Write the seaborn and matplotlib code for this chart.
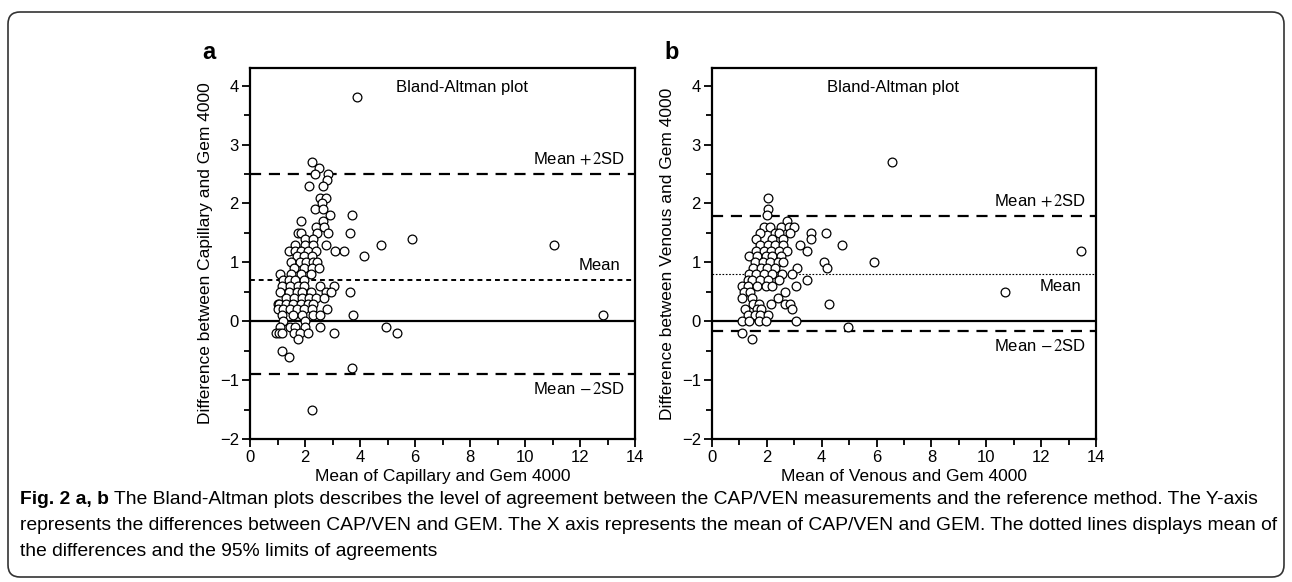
"""
Bland-Altman plots: capillary / venous vs Gem 4000
"""
import numpy as np
import pandas as pd
import matplotlib
matplotlib.use('Agg')
import matplotlib.pyplot as plt
from matplotlib.patches import FancyBboxPatch
import seaborn as sns

sns.set_style("ticks")
plt.rcParams['font.family'] = ['Liberation Sans', 'DejaVu Sans']
plt.rcParams['mathtext.fontset'] = 'stix'
plt.rcParams['text.color'] = 'black'
plt.rcParams['axes.labelcolor'] = 'black'
plt.rcParams['xtick.color'] = 'black'
plt.rcParams['ytick.color'] = 'black'

# ===================== data =====================
# panel a: capillary vs Gem 4000 (mean, difference)
cap_x = [3.9, 2.25, 2.5, 2.35, 2.85, 2.8, 2.15, 2.65, 2.55, 2.75, 2.6, 2.35, 2.65, 2.9, 3.7,
         1.85, 2.65, 2.4, 2.7, 1.75, 1.85, 2.45, 2.85, 3.65, 2.0, 2.3, 5.9, 1.65, 2.0, 2.3,
         2.75, 4.75, 11.05,
         1.4, 1.65, 1.85, 2.1, 2.4, 3.1, 3.4,
         1.7, 1.95, 2.25, 4.15,
         1.5, 1.8, 2.05, 2.3, 2.45,
         1.6, 1.95, 2.25, 2.5,
         1.1, 1.5, 1.85, 2.2,
         1.2, 1.4, 1.65, 1.95,
         1.15, 1.45, 1.75, 1.95, 2.55, 3.05,
         1.1, 1.4, 1.7, 1.9, 2.2, 2.75, 2.95, 3.65,
         1.3, 1.6, 1.9, 2.15, 2.4, 2.7,
         1.0, 1.05, 1.3, 1.55, 1.85, 2.1, 2.3,
         1.0, 1.2, 1.45, 1.7, 1.95, 2.25, 2.8,
         1.15, 1.55, 1.9, 2.3, 2.55, 3.75, 12.85,
         1.2, 2.0,
         1.1, 1.45, 1.65, 2.0, 2.55, 4.95,
         0.95, 1.05, 1.15, 1.6, 1.8, 2.1, 3.05, 5.35,
         1.75, 1.15, 1.4, 3.7, 2.25]
cap_d = [3.8, 2.7, 2.6, 2.5, 2.5, 2.4, 2.3, 2.3, 2.1, 2.1, 2.0, 1.9, 1.9, 1.8, 1.8,
         1.7, 1.7, 1.6, 1.6, 1.5, 1.5, 1.5, 1.5, 1.5, 1.4, 1.4, 1.4, 1.3, 1.3, 1.3,
         1.3, 1.3, 1.3,
         1.2, 1.2, 1.2, 1.2, 1.2, 1.2, 1.2,
         1.1, 1.1, 1.1, 1.1,
         1.0, 1.0, 1.0, 1.0, 1.0,
         0.9, 0.9, 0.9, 0.9,
         0.8, 0.8, 0.8, 0.8,
         0.7, 0.7, 0.7, 0.7,
         0.6, 0.6, 0.6, 0.6, 0.6, 0.6,
         0.5, 0.5, 0.5, 0.5, 0.5, 0.5, 0.5, 0.5,
         0.4, 0.4, 0.4, 0.4, 0.4, 0.4,
         0.3, 0.3, 0.3, 0.3, 0.3, 0.3, 0.3,
         0.2, 0.2, 0.2, 0.2, 0.2, 0.2, 0.2,
         0.1, 0.1, 0.1, 0.1, 0.1, 0.1, 0.1,
         0.0, 0.0,
         -0.1, -0.1, -0.1, -0.1, -0.1, -0.1,
         -0.2, -0.2, -0.2, -0.2, -0.2, -0.2, -0.2, -0.2,
         -0.3, -0.5, -0.6, -0.8, -1.5]
cap_lines = [0.7, 2.5, -0.9]     # mean, mean+2SD, mean-2SD

# panel b: venous vs Gem 4000
ven_x = [6.55, 2.05, 2.05, 2.0, 2.75,
         1.9, 2.1, 2.5, 2.8, 3.0,
         1.75, 2.3, 2.45, 2.85, 3.6, 4.15,
         1.6, 2.2, 2.6, 3.6,
         1.75, 2.05, 2.3, 2.6, 3.2, 4.75,
         1.6, 1.9, 2.15, 2.45, 2.75, 3.45, 13.45,
         1.35, 1.65, 1.95, 2.2, 2.5,
         1.55, 1.85, 2.1, 2.4, 2.6, 4.1, 5.9,
         1.5, 1.8, 2.0, 2.3, 3.1, 4.2,
         1.35, 1.6, 1.9, 2.2, 2.55, 2.9,
         1.3, 1.45, 1.75, 2.05, 2.45, 3.45,
         1.1, 1.3, 1.65, 1.95, 2.2, 3.05,
         1.15, 1.4, 2.65, 10.7,
         1.1, 1.45, 2.4,
         1.5, 1.7, 2.15, 2.65, 2.85, 4.25,
         1.2, 1.65, 1.8, 2.9,
         1.3, 1.55, 1.75, 2.05,
         1.1, 1.35, 1.7, 1.95, 3.05,
         4.95, 1.1, 1.45]
ven_d = [2.7, 2.1, 1.9, 1.8, 1.7,
         1.6, 1.6, 1.6, 1.6, 1.6,
         1.5, 1.5, 1.5, 1.5, 1.5, 1.5,
         1.4, 1.4, 1.4, 1.4,
         1.3, 1.3, 1.3, 1.3, 1.3, 1.3,
         1.2, 1.2, 1.2, 1.2, 1.2, 1.2, 1.2,
         1.1, 1.1, 1.1, 1.1, 1.1,
         1.0, 1.0, 1.0, 1.0, 1.0, 1.0, 1.0,
         0.9, 0.9, 0.9, 0.9, 0.9, 0.9,
         0.8, 0.8, 0.8, 0.8, 0.8, 0.8,
         0.7, 0.7, 0.7, 0.7, 0.7, 0.7,
         0.6, 0.6, 0.6, 0.6, 0.6, 0.6,
         0.5, 0.5, 0.5, 0.5,
         0.4, 0.4, 0.4,
         0.3, 0.3, 0.3, 0.3, 0.3, 0.3,
         0.2, 0.2, 0.2, 0.2,
         0.1, 0.1, 0.1, 0.1,
         0.0, 0.0, 0.0, 0.0, 0.0,
         -0.1, -0.2, -0.3]
ven_lines = [0.81, 1.78, -0.16]

caption_bold = "Fig. 2 a, b"
caption = [" The Bland-Altman plots describes the level of agreement between the CAP/VEN measurements and the reference method. The Y-axis",
           "represents the differences between CAP/VEN and GEM. The X axis represents the mean of CAP/VEN and GEM. The dotted lines displays mean of",
           "the differences and the 95% limits of agreements"]

# ===================== figure =====================
fig = plt.figure(figsize=(12.92, 5.82), dpi=100)
fig.patches.append(FancyBboxPatch((8, 5), 1276, 565, boxstyle="round,pad=0,rounding_size=12",
                                  transform=None, fill=False, edgecolor='#333333', linewidth=1.2))

ax_a = fig.add_axes([0.1935, 0.2457, 0.298, 0.6375])
ax_b = fig.add_axes([0.5511, 0.2457, 0.2972, 0.6375])


def bland_altman(ax, x, d, lines, name, letter, mean_style, title_x, mean_lbl_below):
    df = pd.DataFrame({'m': x, 'd': d})
    sns.scatterplot(data=df, x='m', y='d', ax=ax, s=40, facecolor='white',
                    edgecolor='black', linewidth=0.9, zorder=3)
    mean, hi, lo = lines
    ax.axhline(0, color='black', lw=1.6, zorder=2)
    ax.axhline(hi, color='black', lw=1.6, dashes=(5, 3.5), zorder=2)
    ax.axhline(lo, color='black', lw=1.6, dashes=(5, 3.5), zorder=2)
    ax.axhline(mean, color='black', **mean_style, zorder=2)

    ax.set_xlim(0, 14)
    ax.set_ylim(-2, 4.3)
    ax.set_xticks(range(0, 15, 2))
    ax.set_xticks(range(1, 14, 2), minor=True)
    ax.set_yticks(range(-2, 5))
    ax.set_yticks(np.arange(-1.5, 4.0, 1), minor=True)
    ax.tick_params(which='major', direction='out', length=6, width=1.3, labelsize=12,
                   color='black', pad=2)
    ax.tick_params(which='minor', direction='out', length=4, width=1.3, color='black')
    for sp in ax.spines.values():
        sp.set_linewidth(1.6)
        sp.set_color('black')
    ax.set_xlabel(f'Mean of {name} and Gem 4000', fontsize=12.5, labelpad=3)
    ax.set_ylabel(f'Difference between {name} and Gem 4000', fontsize=12.5, labelpad=5)

    ax.text(title_x, 3.97, 'Bland-Altman plot', fontsize=12, va='center', ha='left')
    ax.text(13.65, hi + 0.12, r'Mean $+\,2$SD', fontsize=12, ha='right', va='bottom')
    ax.text(13.65, lo - 0.12, r'Mean $-\,2$SD', fontsize=12, ha='right', va='top')
    if mean_lbl_below:
        ax.text(13.45, mean - 0.1, 'Mean', fontsize=12, ha='right', va='top')
    else:
        ax.text(13.45, mean + 0.12, 'Mean', fontsize=12, ha='right', va='bottom')
    ax.text(-0.125, 1.01, letter, transform=ax.transAxes, fontsize=17,
            fontweight='bold', ha='left', va='bottom')


bland_altman(ax_a, cap_x, cap_d, cap_lines, 'Capillary', 'a',
             dict(lw=1.4, dashes=(2.5, 2)), 5.3, False)
bland_altman(ax_b, ven_x, ven_d, ven_lines, 'Venous', 'b',
             dict(lw=0.8, dashes=(1.5, 1.5)), 4.2, True)

# caption
cap_size = 13.9
t0 = fig.text(0.0155, 1 - 499 / 582, caption_bold, fontsize=cap_size, fontweight='bold',
              va='center', ha='left')
plt.annotate(caption[0], xy=(1, 0.5), xycoords=t0, fontsize=cap_size,
             va='center', ha='left', annotation_clip=False)
for i, line in enumerate(caption[1:]):
    fig.text(0.0155, 1 - (525.5 + 25.5 * i) / 582, line, fontsize=cap_size,
             va='center', ha='left')

plt.savefig('out.png', dpi=100)
plt.close()
